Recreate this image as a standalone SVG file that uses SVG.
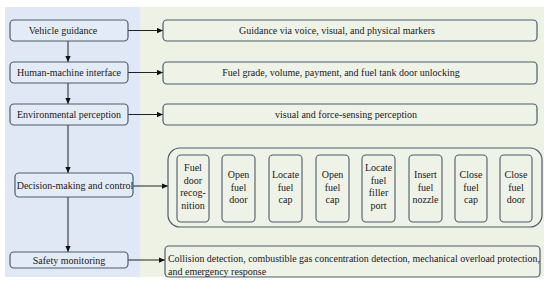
<svg xmlns="http://www.w3.org/2000/svg" width="550" height="285" viewBox="0 0 550 285" font-family="'Liberation Serif', 'DejaVu Serif', serif">
<defs>
<style>
text{font-family:'Liberation Serif','DejaVu Serif',serif;font-size:10px;fill:#1a1a1a}
.c{text-anchor:middle}
.lb{fill:#e3ebf6;stroke:#4f5d6b;stroke-width:1.2}
.rb{fill:#eef2e7;stroke:#4f5d6b;stroke-width:1.2}
.ib{fill:#eef2e7;stroke:#4f5d6b;stroke-width:1.1}
.ln{stroke:#222;stroke-width:1;fill:none}
</style>
<marker id="ah" viewBox="0 0 8 8" refX="8" refY="4" markerWidth="6" markerHeight="6" markerUnits="userSpaceOnUse" orient="auto">
<path d="M0,0.5 L8,4 L0,7.5 Z" fill="#111"/>
</marker>
</defs>
<rect x="0" y="0" width="550" height="285" fill="#ffffff"/>
<rect x="5" y="7" width="135" height="270" fill="#dfe8f4"/>
<rect x="140" y="7" width="404" height="270" fill="#eef2e5"/>

<g id="connectors">
<line class="ln" x1="68" y1="41" x2="68" y2="62" marker-end="url(#ah)"/>
<line class="ln" x1="68" y1="83" x2="68" y2="104" marker-end="url(#ah)"/>
<line class="ln" x1="68" y1="125" x2="68" y2="173" marker-end="url(#ah)"/>
<line class="ln" x1="68" y1="197" x2="68" y2="252" marker-end="url(#ah)"/>
<line class="ln" x1="128" y1="30.5" x2="163" y2="30.5" marker-end="url(#ah)"/>
<line class="ln" x1="128" y1="72.5" x2="163" y2="72.5" marker-end="url(#ah)"/>
<line class="ln" x1="128" y1="114.5" x2="163" y2="114.5" marker-end="url(#ah)"/>
<line class="ln" x1="133" y1="186" x2="168" y2="186" marker-end="url(#ah)"/>
<line class="ln" x1="128" y1="260" x2="165" y2="260" marker-end="url(#ah)"/>
<line class="ln" x1="209" y1="191" x2="222" y2="191" marker-end="url(#ah)"/>
<line class="ln" x1="255" y1="191" x2="269" y2="191" marker-end="url(#ah)"/>
<line class="ln" x1="302" y1="191" x2="316" y2="191" marker-end="url(#ah)"/>
<line class="ln" x1="349" y1="191" x2="362" y2="191" marker-end="url(#ah)"/>
<line class="ln" x1="395" y1="191" x2="409" y2="191" marker-end="url(#ah)"/>
<line class="ln" x1="442" y1="191" x2="455" y2="191" marker-end="url(#ah)"/>
<line class="ln" x1="487" y1="191" x2="500" y2="191" marker-end="url(#ah)"/>
</g>

<g id="vehicle-guidance">
<rect class="lb" x="10" y="20" width="118" height="21" rx="4"/>
<text class="c" x="63" y="34">Vehicle guidance</text>
</g>
<g id="hmi">
<rect class="lb" x="10" y="62" width="118" height="21" rx="4"/>
<text class="c" x="69" y="76">Human-machine interface</text>
</g>
<g id="environmental-perception">
<rect class="lb" x="10" y="104" width="118" height="21" rx="4"/>
<text class="c" x="69" y="118">Environmental perception</text>
</g>
<g id="decision-making">
<rect class="lb" x="15" y="173" width="118" height="24" rx="4"/>
<text class="c" x="75" y="189">Decision-making and control</text>
</g>
<g id="safety-monitoring">
<rect class="lb" x="10" y="252" width="118" height="16" rx="4"/>
<text class="c" x="69" y="263.5">Safety monitoring</text>
</g>

<g id="guidance-detail">
<rect class="rb" x="163" y="20" width="374" height="21" rx="4"/>
<text class="c" x="337" y="34">Guidance via voice, visual, and physical markers</text>
</g>
<g id="hmi-detail">
<rect class="rb" x="163" y="62" width="374" height="22" rx="4"/>
<text class="c" x="341" y="76">Fuel grade, volume, payment, and fuel tank door unlocking</text>
</g>
<g id="perception-detail">
<rect class="rb" x="163" y="104" width="374" height="21" rx="4"/>
<text class="c" x="346" y="118">visual and force-sensing perception</text>
</g>
<g id="control-steps">
<rect class="rb" x="168" y="148" width="374" height="79" rx="12"/>
</g>
<g id="step-1">
<rect class="ib" x="177" y="155" width="32" height="67" rx="4"/>
<text class="c" x="193" y="171">Fuel</text>
<text class="c" x="193" y="183.5">door</text>
<text class="c" x="193" y="196">recog-</text>
<text class="c" x="193" y="208.5">nition</text>
</g>
<g id="step-2">
<rect class="ib" x="222" y="155" width="33" height="67" rx="4"/>
<text class="c" x="238.5" y="178">Open</text>
<text class="c" x="238.5" y="190.5">fuel</text>
<text class="c" x="238.5" y="203">door</text>
</g>
<g id="step-3">
<rect class="ib" x="269" y="155" width="33" height="67" rx="4"/>
<text class="c" x="285.5" y="178">Locate</text>
<text class="c" x="285.5" y="190.5">fuel</text>
<text class="c" x="285.5" y="203">cap</text>
</g>
<g id="step-4">
<rect class="ib" x="316" y="155" width="33" height="67" rx="4"/>
<text class="c" x="332.5" y="178">Open</text>
<text class="c" x="332.5" y="190.5">fuel</text>
<text class="c" x="332.5" y="203">cap</text>
</g>
<g id="step-5">
<rect class="ib" x="362" y="155" width="33" height="67" rx="4"/>
<text class="c" x="378.5" y="171">Locate</text>
<text class="c" x="378.5" y="183.5">fuel</text>
<text class="c" x="378.5" y="196">filler</text>
<text class="c" x="378.5" y="208.5">port</text>
</g>
<g id="step-6">
<rect class="ib" x="409" y="155" width="33" height="67" rx="4"/>
<text class="c" x="425.5" y="178">Insert</text>
<text class="c" x="425.5" y="190.5">fuel</text>
<text class="c" x="425.5" y="203">nozzle</text>
</g>
<g id="step-7">
<rect class="ib" x="455" y="155" width="32" height="67" rx="4"/>
<text class="c" x="471" y="178">Close</text>
<text class="c" x="471" y="190.5">fuel</text>
<text class="c" x="471" y="203">cap</text>
</g>
<g id="step-8">
<rect class="ib" x="500" y="155" width="32" height="67" rx="4"/>
<text class="c" x="516" y="178">Close</text>
<text class="c" x="516" y="190.5">fuel</text>
<text class="c" x="516" y="203">door</text>
</g>

<g id="safety-detail">
<rect class="rb" x="165" y="246" width="375" height="31" rx="4"/>
<text x="168" y="261.5" textLength="372" lengthAdjust="spacingAndGlyphs">Collision detection, combustible gas concentration detection, mechanical overload protection,</text>
<text x="168" y="274.5">and emergency response</text>
</g>
</svg>
